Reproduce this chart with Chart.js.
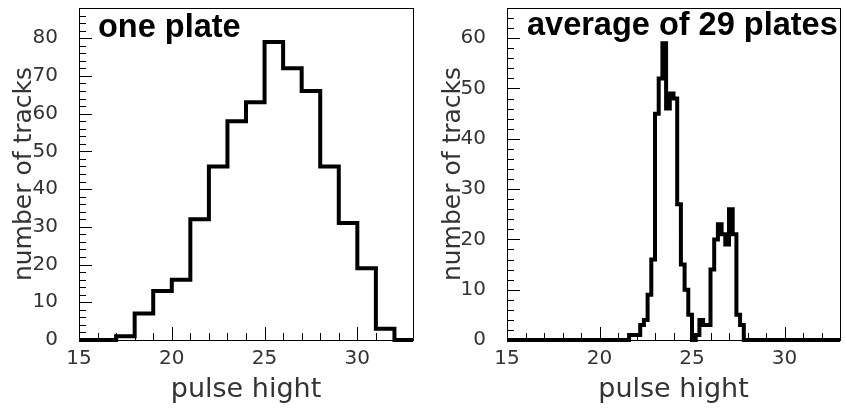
<!DOCTYPE html>
<html>
<head>
<meta charset="utf-8">
<script src="https://cdn.jsdelivr.net/npm/chart.js@4/dist/chart.umd.min.js"></script>
<style>
  body { margin: 0; background: #fff; }
  .panel { position: absolute; top: 0; }
</style>
</head>
<body>
<div class="panel" style="left:0"><canvas id="onePlate" width="422" height="412"></canvas></div>
<div class="panel" style="left:422px"><canvas id="avgPlates" width="423" height="412"></canvas></div>
<script>
// x axis: pulse hight, both panels
const xMin = 15
const xMax = 33
const xTickLabels = [15, 20, 25, 30]

// left panel: one plate, bins of width 1 starting at 15
const onePlateStart = 15
const onePlateWidth = 1
const onePlateCounts = [0, 0, 1, 7, 13, 16, 32, 46, 58, 63, 79, 72, 66, 46, 31, 19, 3, 0]
const onePlateYTicks = [0, 10, 20, 30, 40, 50, 60, 70, 80]
const onePlateYMax = 88

// right panel: average of 29 plates, bins of width 0.2 starting at 15
const avgStart = 15
const avgWidth = 0.2
const avgCounts = [
    0, 0, 0, 0, 0, 0, 0, 0, 0, 0,
    0, 0, 0, 0, 0, 0, 0, 0, 0, 0,
    0, 0, 0, 0, 0, 0, 0, 0, 0, 0,
    0, 0, 0, 1, 1, 1, 3, 4, 9, 16,
    45, 52, 59, 46, 49, 48, 27, 15, 10, 5,
    0, 1, 4, 3, 3, 14, 20, 23, 21, 19,
    26, 21, 5, 3, 0, 0, 0, 0, 0, 0,
    0, 0, 0, 0, 0, 0, 0, 0, 0, 0,
    0, 0, 0, 0, 0, 0, 0, 0, 0, 0
]
const avgYTicks = [0, 10, 20, 30, 40, 50, 60]
const avgYMax = 66

const thinFont = "'DejaVu Sans', 'Liberation Sans', sans-serif"
const boldFont = "'Liberation Sans', Arial, sans-serif"
const textGrey = '#333'

function histPoints(start, width, counts) {
    let pts = []
    for (let i = 0; i < counts.length; i++) {
        pts.push({ x: start + i * width, y: counts[i] })
    }
    // close the last bin at its right edge
    pts.push({ x: start + counts.length * width, y: counts[counts.length - 1] })
    return pts
}

// frame round the plot area plus inward ticks, PAW style
const frameTicks = {
    id: 'frameTicks',
    afterDatasetsDraw(chart) {
        const ctx = chart.ctx
        const a = chart.chartArea
        const xs = chart.scales.x
        const ys = chart.scales.y
        ctx.save()
        ctx.strokeStyle = '#000'
        ctx.lineWidth = 1
        ctx.strokeRect(Math.round(a.left) + 0.5, Math.round(a.top) + 0.5, Math.round(a.right - a.left), Math.round(a.bottom - a.top))
        ctx.beginPath()
        for (let v = xMin; v <= xMax; v++) {
            let px = Math.round(xs.getPixelForValue(v)) + 0.5
            let len = v % 5 == 0 ? 13 : 7
            ctx.moveTo(px, a.bottom)
            ctx.lineTo(px, a.bottom - len)
        }
        for (let v = 0; v <= ys.max; v += 2) {
            let py = Math.round(ys.getPixelForValue(v)) + 0.5
            let len = v % 10 == 0 ? 13 : 7
            ctx.moveTo(a.left, py)
            ctx.lineTo(a.left + len, py)
        }
        ctx.stroke()
        ctx.restore()
    },
    afterDraw(chart, args, opts) {
        const ctx = chart.ctx
        ctx.save()
        ctx.fillStyle = '#000'
        ctx.font = 'bold ' + opts.size + 'px ' + boldFont
        ctx.textBaseline = 'alphabetic'
        ctx.fillText(opts.text, opts.x, opts.y)
        ctx.restore()
    }
}

function makeHist(id, start, width, counts, yTicks, yMax, yAxisWidth, padRight, yTitlePad, label) {
    return new Chart(id, {
        type: 'line',
        data: {
            datasets: [{
                data: histPoints(start, width, counts),
                stepped: 'before',
                borderColor: '#000',
                borderWidth: 4,
                borderCapStyle: 'butt',
                borderJoinStyle: 'miter',
                pointRadius: 0,
                fill: false,
                clip: false
            }]
        },
        options: {
            responsive: false,
            animation: false,
            layout: { padding: { top: 8, right: padRight, left: 0, bottom: 0 } },
            plugins: {
                legend: { display: false },
                tooltip: { enabled: false },
                frameTicks: label
            },
            scales: {
                x: {
                    type: 'linear',
                    min: xMin,
                    max: xMax,
                    afterBuildTicks: s => { s.ticks = xTickLabels.map(v => ({ value: v })) },
                    afterFit: s => { s.height = 72; s.paddingLeft = 0; s.paddingRight = 0 },
                    grid: { display: false, drawTicks: false },
                    border: { display: false },
                    ticks: { autoSkip: false, maxRotation: 0, padding: 7, color: textGrey, font: { family: thinFont, size: 20 } },
                    title: { display: true, text: 'pulse hight', color: textGrey, padding: { top: 0, bottom: 6 }, font: { family: thinFont, size: 27, lineHeight: 1.2 } }
                },
                y: {
                    min: 0,
                    max: yMax,
                    afterBuildTicks: s => { s.ticks = yTicks.map(v => ({ value: v })) },
                    afterFit: s => { s.width = yAxisWidth; s.paddingTop = 0; s.paddingBottom = 0 },
                    grid: { display: false, drawTicks: false },
                    border: { display: false },
                    ticks: { autoSkip: false, padding: 21, color: textGrey, font: { family: thinFont, size: 20 } },
                    title: { display: true, text: 'number of tracks', color: textGrey, padding: { top: yTitlePad, bottom: 0 }, font: { family: thinFont, size: 25, lineHeight: 1.2 } }
                }
            }
        },
        plugins: [frameTicks]
    })
}

makeHist('onePlate', onePlateStart, onePlateWidth, onePlateCounts, onePlateYTicks, onePlateYMax, 79, 9, 9,
    { text: 'one plate', size: 32.5, x: 98, y: 37 })
makeHist('avgPlates', avgStart, avgWidth, avgCounts, avgYTicks, avgYMax, 85, 5, 16,
    { text: 'average of 29 plates', size: 32.5, x: 105, y: 35 })
</script>
</body>
</html>
